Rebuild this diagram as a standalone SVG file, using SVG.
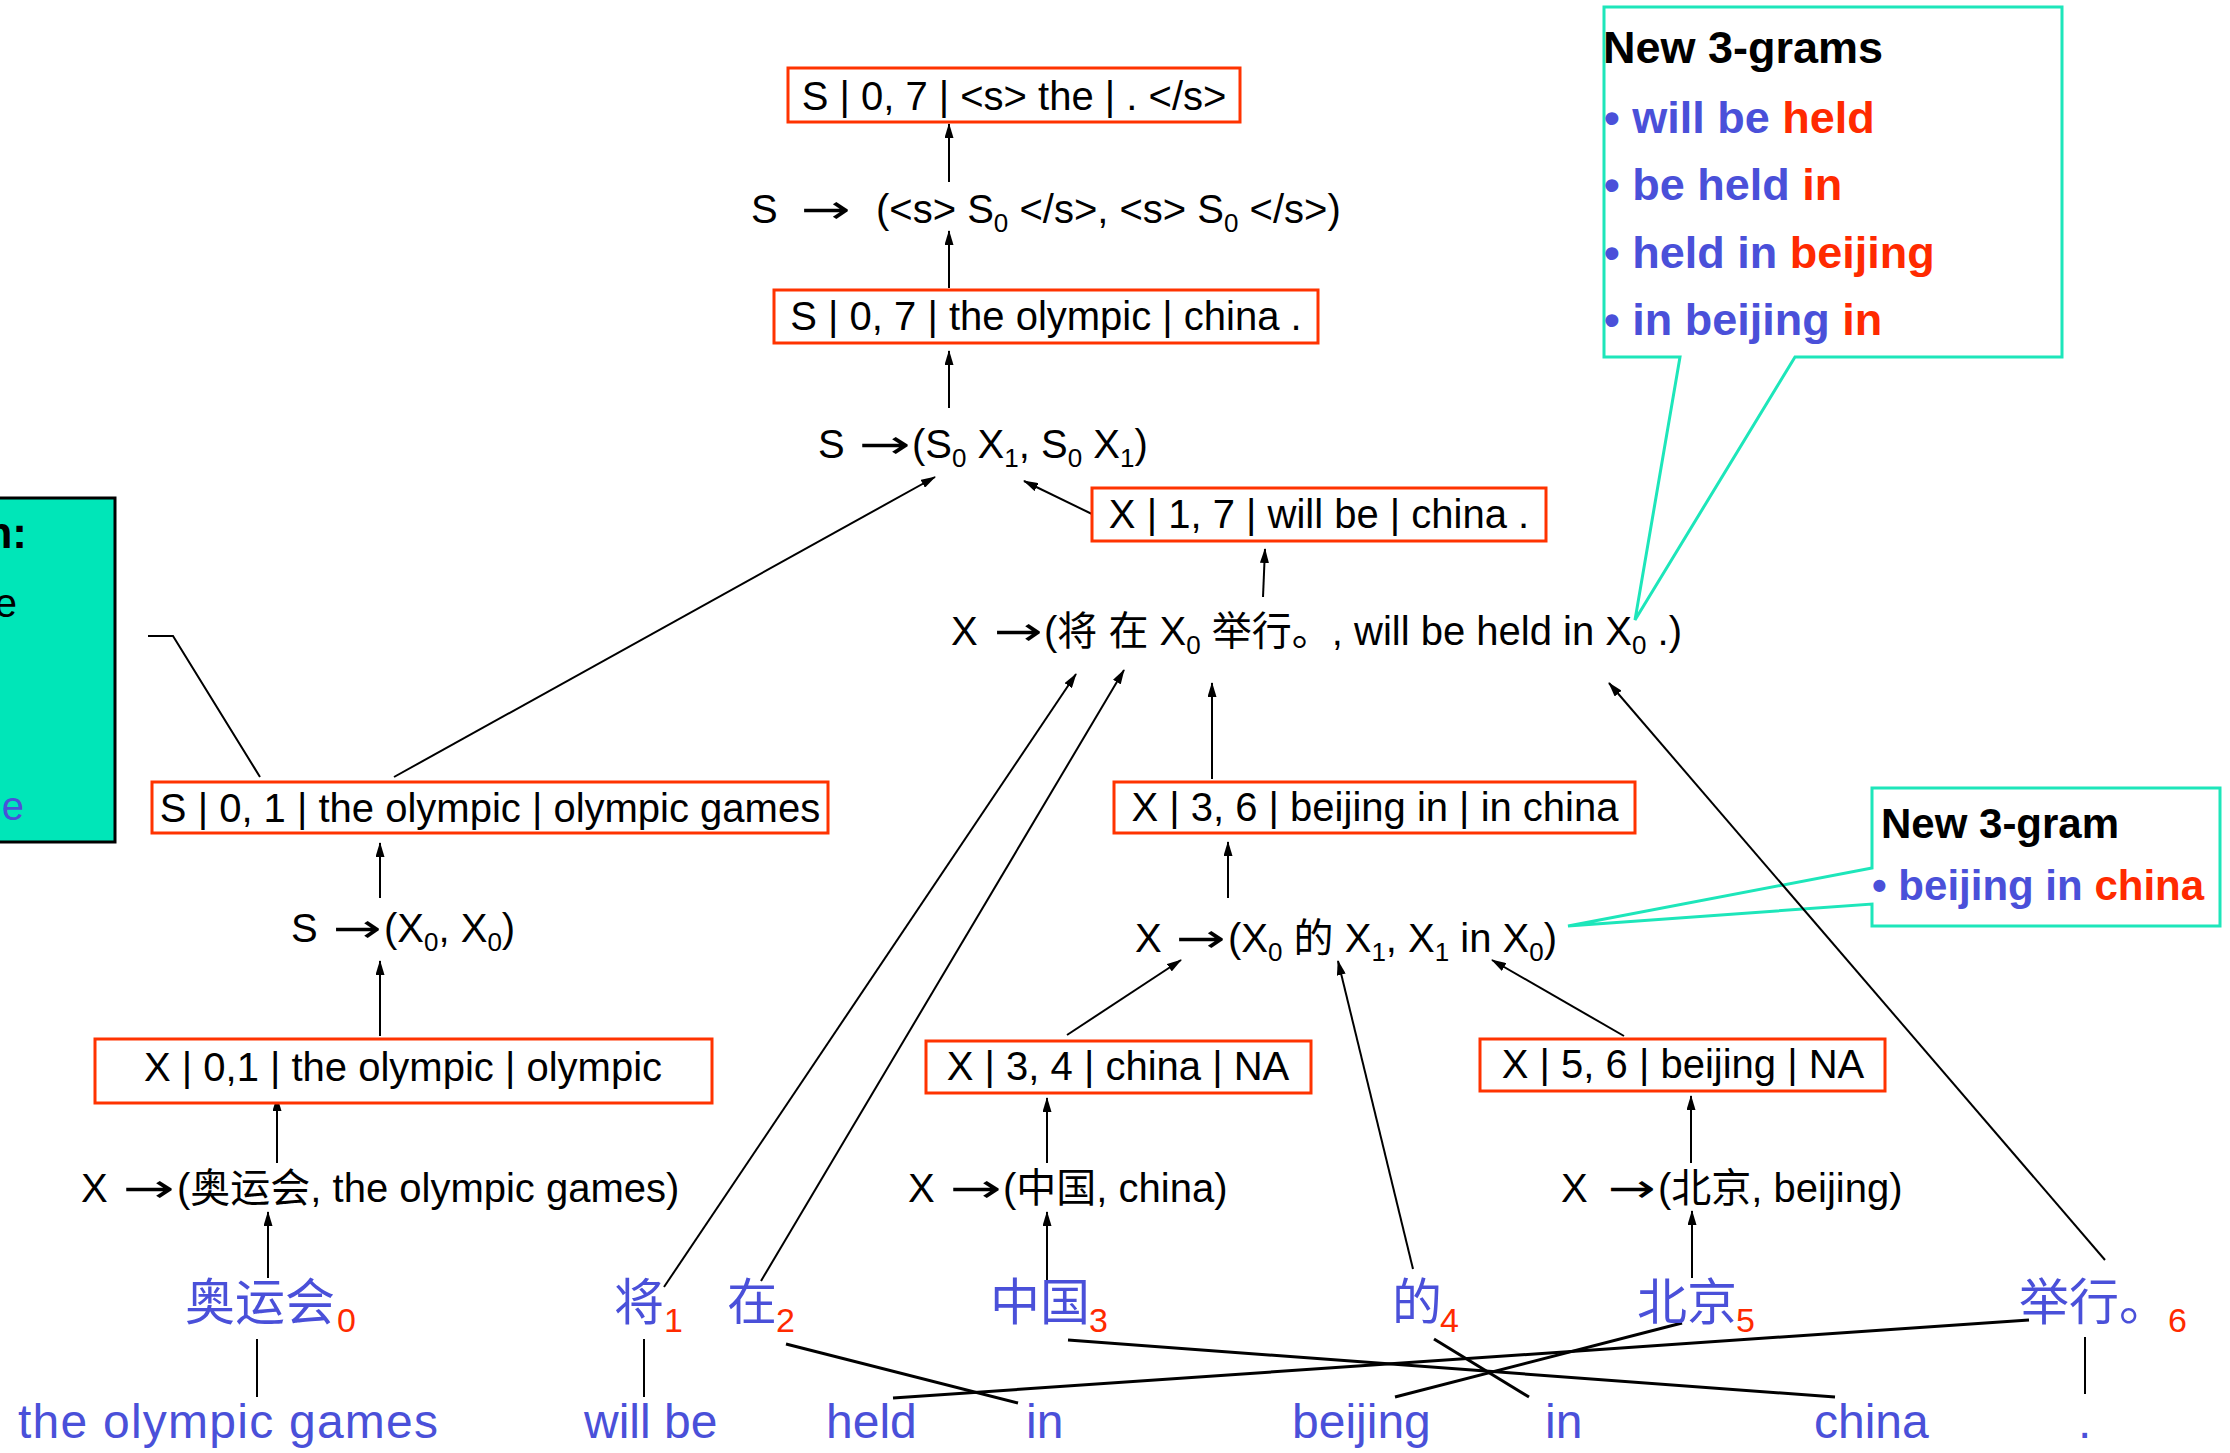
<svg xmlns="http://www.w3.org/2000/svg" width="2230" height="1453" viewBox="0 0 2230 1453">
  <defs>
    <style>
      .t { font-family: "Liberation Sans", Arial, "Noto Sans CJK SC", sans-serif; font-size: 40px; fill: #000; }
      .ar { font-family: "DejaVu Sans", sans-serif; font-size: 40px; fill: #000; }
      .sub { font-size: 26px; }
      .nb rect { fill: #fff; stroke: #FF3300; stroke-width: 3; }
      .zh { font-family: "Noto Sans CJK SC", sans-serif; font-size: 50px; fill: #4A50D9; }
      .idx { font-family: "Liberation Sans", Arial, sans-serif; font-size: 34px; fill: #FF2A00; }
      .en { font-family: "Liberation Sans", Arial, sans-serif; font-size: 48px; fill: #4A50D9; }
      .co { fill: #fff; stroke: #1DE6BA; stroke-width: 3; }
      .cb { font-family: "Liberation Sans", Arial, sans-serif; font-weight: bold; fill: #000; }
      .blue { fill: #4A50D9; }
      .red { fill: #FF2A00; }
      .arw line { stroke: #000; stroke-width: 2; marker-end: url(#ah); }
      .aln line { stroke: #000; stroke-width: 3; }
      .aln line.v { stroke-width: 2; }
    </style>
    <marker id="ah" markerUnits="userSpaceOnUse" markerWidth="15" markerHeight="9" refX="14" refY="4.5" orient="auto">
      <path d="M0,0 L15,4.5 L0,9 z" fill="#000"/>
    </marker>
  </defs>

  <rect width="2230" height="1453" fill="#fff"/>

  <!-- side panel, cut by the left edge -->
  <g id="side-panel">
    <rect x="-10" y="498" width="125" height="344" fill="#00E6B8" stroke="#000" stroke-width="3"/>
    <text class="cb" x="27" y="548" font-size="44" text-anchor="end">n:</text>
    <text class="t" x="17" y="617" font-size="44" text-anchor="end">e</text>
    <text class="t blue" x="24" y="820" font-size="46" text-anchor="end">e</text>
  </g>

  <!-- callouts -->
  <g id="callout-3grams">
    <path class="co" d="M1604,7 H2062 V357 H1795 L1635,620 L1680,357 H1604 Z"/>
    <text class="cb" x="1603" y="63" font-size="45">New 3-grams</text>
    <text class="cb" x="1604" y="133" font-size="45"><tspan class="blue">• will be </tspan><tspan class="red">held</tspan></text>
    <text class="cb" x="1604" y="200" font-size="45"><tspan class="blue">• be held </tspan><tspan class="red">in</tspan></text>
    <text class="cb" x="1604" y="268" font-size="45"><tspan class="blue">• held in </tspan><tspan class="red">beijing</tspan></text>
    <text class="cb" x="1604" y="335" font-size="45"><tspan class="blue">• in beijing </tspan><tspan class="red">in</tspan></text>
  </g>
  <g id="callout-3gram">
    <path class="co" d="M1872,788 H2220 V926 H1872 V904 L1568,926 L1872,868 Z"/>
    <text class="cb" x="1881" y="838" font-size="42">New 3-gram</text>
    <text class="cb" x="1872" y="900" font-size="42"><tspan class="blue">• beijing in </tspan><tspan class="red">china</tspan></text>
  </g>

  <!-- derivation connectors and word alignments -->
  <g id="connectors">
    <g class="arw">
      <line x1="949" y1="182" x2="949" y2="124"/>
      <line x1="949" y1="288" x2="949" y2="231"/>
      <line x1="949" y1="408" x2="949" y2="351"/>
      <line x1="394" y1="777" x2="935" y2="477"/>
      <line x1="1094" y1="515" x2="1024" y2="481"/>
      <line x1="1263" y1="597" x2="1265" y2="549"/>
      <line x1="664" y1="1287" x2="1076" y2="674"/>
      <line x1="761" y1="1281" x2="1124" y2="670"/>
      <line x1="1212" y1="779" x2="1212" y2="683"/>
      <line x1="2105" y1="1260" x2="1609" y2="683"/>
      <line x1="1228" y1="898" x2="1228" y2="842"/>
      <line x1="1067" y1="1035" x2="1181" y2="960"/>
      <line x1="1413" y1="1269" x2="1338" y2="961"/>
      <line x1="1624" y1="1036" x2="1492" y2="960"/>
      <line x1="380" y1="898" x2="380" y2="843"/>
      <line x1="380" y1="1036" x2="380" y2="961"/>
      <line x1="277" y1="1163" x2="277" y2="1097"/>
      <line x1="268" y1="1278" x2="268" y2="1212"/>
      <line x1="1047" y1="1280" x2="1047" y2="1212"/>
      <line x1="1047" y1="1163" x2="1047" y2="1098"/>
      <line x1="1692" y1="1278" x2="1692" y2="1211"/>
      <line x1="1691" y1="1163" x2="1691" y2="1096"/>
    </g>
    <polyline points="148,636 173,636 260,777" fill="none" stroke="#000" stroke-width="2"/>
    <g class="aln">
      <line class="v" x1="257" y1="1339" x2="257" y2="1397"/>
      <line class="v" x1="644" y1="1339" x2="644" y2="1397"/>
      <line x1="786" y1="1344" x2="1018" y2="1403"/>
      <line x1="893" y1="1398" x2="2029" y2="1320"/>
      <line x1="1068" y1="1340" x2="1835" y2="1397"/>
      <line x1="1434" y1="1339" x2="1529" y2="1397"/>
      <line x1="1682" y1="1323" x2="1395" y2="1397"/>
      <line class="v" x1="2085" y1="1337" x2="2085" y2="1394"/>
    </g>
  </g>

  <!-- hypothesis nodes -->
  <g id="n-s07-top" class="nb">
    <rect x="788" y="68" width="452" height="54"/>
    <text class="t" x="1014" y="110" text-anchor="middle">S | 0, 7 | &lt;s&gt; the | . &lt;/s&gt;</text>
  </g>
  <g id="n-s07" class="nb">
    <rect x="774" y="290" width="544" height="53"/>
    <text class="t" x="1046" y="330" text-anchor="middle">S | 0, 7 | the olympic | china .</text>
  </g>
  <g id="n-x17" class="nb">
    <rect x="1092" y="488" width="454" height="53"/>
    <text class="t" x="1319" y="528" text-anchor="middle">X | 1, 7 | will be | china .</text>
  </g>
  <g id="n-s01" class="nb">
    <rect x="152" y="782" width="676" height="51"/>
    <text class="t" x="490" y="822" text-anchor="middle">S | 0, 1 | the olympic | olympic games</text>
  </g>
  <g id="n-x36" class="nb">
    <rect x="1114" y="782" width="521" height="51"/>
    <text class="t" x="1375" y="821" text-anchor="middle">X | 3, 6 | beijing in | in china</text>
  </g>
  <g id="n-x01" class="nb">
    <rect x="95" y="1039" width="617" height="64"/>
    <text class="t" x="403" y="1081" text-anchor="middle">X | 0,1 | the olympic | olympic</text>
  </g>
  <g id="n-x34" class="nb">
    <rect x="926" y="1041" width="385" height="52"/>
    <text class="t" x="1118" y="1080" text-anchor="middle">X | 3, 4 | china | NA</text>
  </g>
  <g id="n-x56" class="nb">
    <rect x="1480" y="1039" width="405" height="52"/>
    <text class="t" x="1683" y="1078" text-anchor="middle">X | 5, 6 | beijing | NA</text>
  </g>

  <!-- grammar rules -->
  <g id="r-top">
    <text class="t" x="751" y="223">S</text>
    <text class="ar" x="801" y="223" textLength="50" lengthAdjust="spacingAndGlyphs">→</text>
    <text class="t" x="876" y="223">(&lt;s&gt; S<tspan class="sub" dy="9">0</tspan><tspan dy="-9"> &lt;/s&gt;, &lt;s&gt; S</tspan><tspan class="sub" dy="9">0</tspan><tspan dy="-9"> &lt;/s&gt;)</tspan></text>
  </g>
  <g id="r-glue">
    <text class="t" x="818" y="458">S</text>
    <text class="ar" x="859" y="458" textLength="52" lengthAdjust="spacingAndGlyphs">→</text>
    <text class="t" x="912" y="458">(S<tspan class="sub" dy="9">0</tspan><tspan dy="-9"> X</tspan><tspan class="sub" dy="9">1</tspan><tspan dy="-9">, S</tspan><tspan class="sub" dy="9">0</tspan><tspan dy="-9"> X</tspan><tspan class="sub" dy="9">1</tspan><tspan dy="-9">)</tspan></text>
  </g>
  <g id="r-held">
    <text class="t" x="951" y="645">X</text>
    <text class="ar" x="994" y="645" textLength="49" lengthAdjust="spacingAndGlyphs">→</text>
    <text class="t" x="1044" y="645">(将 在 X<tspan class="sub" dy="9">0</tspan><tspan dy="-9"> 举行。, will be held in X</tspan><tspan class="sub" dy="9">0</tspan><tspan dy="-9"> .)</tspan></text>
  </g>
  <g id="r-s-x0">
    <text class="t" x="291" y="942">S</text>
    <text class="ar" x="333" y="942" textLength="49" lengthAdjust="spacingAndGlyphs">→</text>
    <text class="t" x="384" y="942">(X<tspan class="sub" dy="9">0</tspan><tspan dy="-9">, X</tspan><tspan class="sub" dy="9">0</tspan><tspan dy="-9">)</tspan></text>
  </g>
  <g id="r-de">
    <text class="t" x="1135" y="952">X</text>
    <text class="ar" x="1176" y="952" textLength="50" lengthAdjust="spacingAndGlyphs">→</text>
    <text class="t" x="1228" y="952">(X<tspan class="sub" dy="9">0</tspan><tspan dy="-9"> 的 X</tspan><tspan class="sub" dy="9">1</tspan><tspan dy="-9">, X</tspan><tspan class="sub" dy="9">1</tspan><tspan dy="-9"> in X</tspan><tspan class="sub" dy="9">0</tspan><tspan dy="-9">)</tspan></text>
  </g>
  <g id="r-olympic">
    <text class="t" x="81" y="1202">X</text>
    <text class="ar" x="123" y="1202" textLength="52" lengthAdjust="spacingAndGlyphs">→</text>
    <text class="t" x="177" y="1202">(奥运会, the olympic games)</text>
  </g>
  <g id="r-china">
    <text class="t" x="908" y="1202">X</text>
    <text class="ar" x="950" y="1202" textLength="52" lengthAdjust="spacingAndGlyphs">→</text>
    <text class="t" x="1003" y="1202">(中国, china)</text>
  </g>
  <g id="r-beijing">
    <text class="t" x="1561" y="1202">X</text>
    <text class="ar" x="1608" y="1202" textLength="48" lengthAdjust="spacingAndGlyphs">→</text>
    <text class="t" x="1658" y="1202">(北京, beijing)</text>
  </g>

  <!-- source words with positions -->
  <g id="src-0"><text class="zh" x="185" y="1320">奥运会</text><text class="idx" x="337" y="1332">0</text></g>
  <g id="src-1"><text class="zh" x="614" y="1320">将</text><text class="idx" x="664" y="1332">1</text></g>
  <g id="src-2"><text class="zh" x="727" y="1320">在</text><text class="idx" x="776" y="1332">2</text></g>
  <g id="src-3"><text class="zh" x="990" y="1320">中国</text><text class="idx" x="1089" y="1332">3</text></g>
  <g id="src-4"><text class="zh" x="1392" y="1320">的</text><text class="idx" x="1440" y="1332">4</text></g>
  <g id="src-5"><text class="zh" x="1637" y="1320">北京</text><text class="idx" x="1736" y="1332">5</text></g>
  <g id="src-6"><text class="zh" x="2019" y="1320">举行。</text><text class="idx" x="2168" y="1332">6</text></g>

  <!-- target words -->
  <g id="tgt">
    <text class="en" x="18" y="1438" textLength="420" lengthAdjust="spacing">the olympic games</text>
    <text class="en" x="584" y="1438">will be</text>
    <text class="en" x="826" y="1438">held</text>
    <text class="en" x="1026" y="1438">in</text>
    <text class="en" x="1292" y="1438">beijing</text>
    <text class="en" x="1545" y="1438">in</text>
    <text class="en" x="1814" y="1438">china</text>
    <text class="en" x="2078" y="1438">.</text>
  </g>
</svg>
